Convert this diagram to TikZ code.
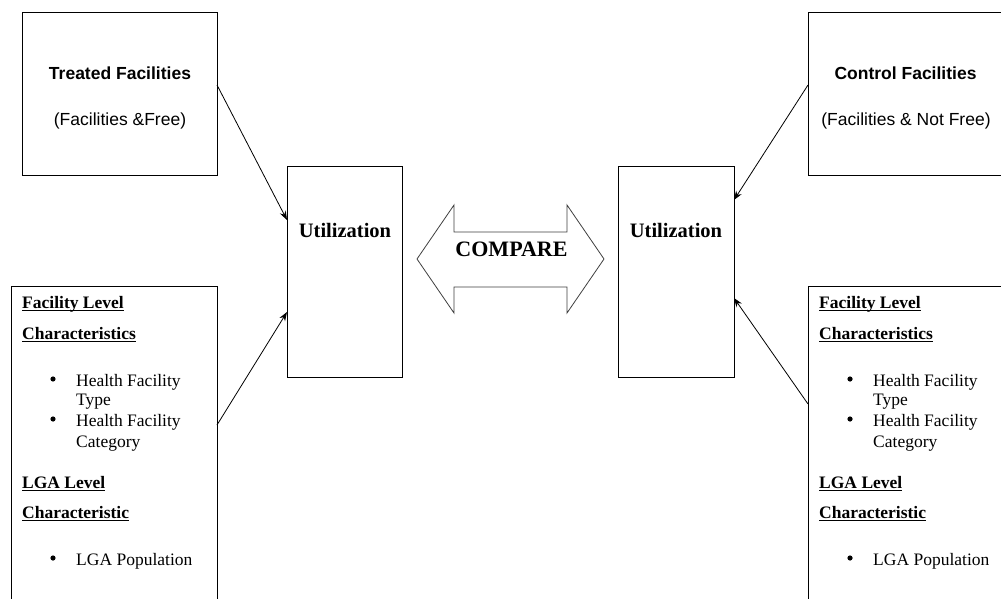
\documentclass[tikz,border=0pt]{standalone}
\usepackage{fontspec}
\setmainfont{Liberation Serif}
\newfontfamily\arialf{Liberation Sans}
\usetikzlibrary{arrows.meta,calc}
\newcommand\myul[1]{\setbox0\hbox{#1}\rlap{\rule[-2.6pt]{\wd0}{0.9pt}}\box0}
\newcommand\charblock[2]{%
  \node[hd] (#2h1) at (22+#1,308) {\myul{Facility Level}};
  \node[hd] (#2h2) at (22+#1,339.5) {\myul{Characteristics}};
  \node[bl] (#2b1) at (53+#1,379) {};
  \node[it] (#2i1) at (76+#1,386) {Health Facility};
  \node[it] (#2i2) at (76+#1,405) {Type};
  \node[bl] (#2b2) at (53+#1,419) {};
  \node[it] (#2i3) at (76+#1,426) {Health Facility};
  \node[it] (#2i4) at (76+#1,447) {Category};
  \node[hd] (#2h3) at (22+#1,488) {\myul{LGA Level}};
  \node[hd] (#2h4) at (22+#1,518.5) {\myul{Characteristic}};
  \node[bl] (#2b3) at (53+#1,558) {};
  \node[it] (#2i5) at (76+#1,565) {LGA Population};
}
\begin{document}
\begin{tikzpicture}[x=1pt,y=-1pt,
  box/.style={draw=black,line width=0.9pt,inner sep=0pt,outer sep=0pt,fill=white},
  conn/.style={line width=0.8pt,-{Stealth[length=9pt,width=6.5pt]}},
  sanshd/.style={font=\arialf\bfseries\fontsize{17.5}{21}\selectfont,anchor=base,inner sep=0pt},
  sansrg/.style={font=\arialf\fontsize{17.5}{21}\selectfont,anchor=base,inner sep=0pt},
  utl/.style={font=\bfseries\fontsize{20.5}{24}\selectfont,anchor=base,inner sep=0pt},
  hd/.style={font=\bfseries\fontsize{17.5}{21}\selectfont,anchor=base west,inner sep=0pt},
  it/.style={font=\fontsize{17.5}{21}\selectfont,anchor=base west,inner sep=0pt},
  bl/.style={circle,fill=black,inner sep=0pt,minimum size=5.2pt}]
\clip (0,0) rectangle (1001,599);
\fill[white] (0,0) rectangle (1001,599);
% boxes
\node[box,minimum width=195pt,minimum height=163pt] (treat) at (119.5,93.5) {};
\node[box,minimum width=115pt,minimum height=211pt] (utilL) at (344.5,271.5) {};
\node[box,minimum width=116pt,minimum height=211pt] (utilR) at (676,271.5) {};
\node[box,minimum width=196pt,minimum height=163pt] (ctrl) at (906,93.5) {};
\node[box,minimum width=206pt,minimum height=340pt] (charL) at (114,456) {};
\node[box,minimum width=206pt,minimum height=340pt] (charR) at (911,456) {};
% texts
\node[sanshd] (treatT) at (120,80) {Treated Facilities};
\node[sansrg] (treatS) at (120,126) {(Facilities \&Free)};
\node[sanshd] (ctrlT) at (905.5,80) {Control Facilities};
\node[sansrg] (ctrlS) at (906,126) {(Facilities \& Not Free)};
\node[utl] (utilLT) at (345,237.3) {Utilization};
\node[utl] (utilRT) at (676,237.3) {Utilization};
\charblock{0}{L}
\charblock{797}{R}
% compare double arrow
\draw[line width=0.8pt,draw=black!75] (417,259) -- (454,205) -- (454,232) -- (567,232) -- (567,205)
  -- (604,259) -- (567,313) -- (567,287) -- (454,287) -- (454,313) -- cycle;
\node[font=\bfseries\fontsize{22}{26}\selectfont,anchor=base,inner sep=0pt] (cmp) at (511.5,256.7) {COMPARE};
% connectors
\draw[conn] ([yshift=8.5pt]treat.east) -- ([yshift=51.5pt]utilL.west);
\draw[conn] ([yshift=31pt]charL.east) -- ([yshift=-40.5pt]utilL.west);
\draw[conn] ([yshift=8.5pt]ctrl.west) -- ([yshift=71.5pt]utilR.east);
\draw[conn] ([yshift=52pt]charR.west) -- ([yshift=-26.5pt]utilR.east);
\end{tikzpicture}
\end{document}
